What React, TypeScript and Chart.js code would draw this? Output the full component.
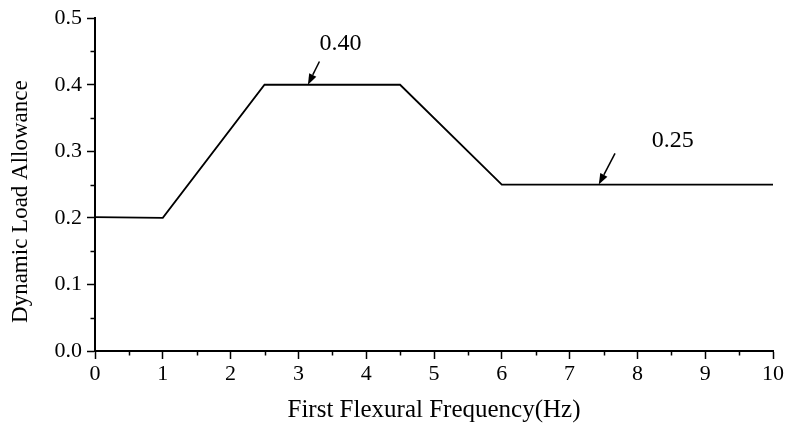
import React, { useEffect, useRef } from 'react';
import { Chart, registerables } from 'chart.js';

Chart.register(...registerables);

// ---- Data ----
const freqHz = [0, 1, 2.5, 4.5, 6, 10];
const loadAllowance = [0.201, 0.2, 0.4, 0.4, 0.25, 0.25];
const xMinorTicks = [0.5, 1.5, 2.5, 3.5, 4.5, 5.5, 6.5, 7.5, 8.5, 9.5];
const yMinorTicks = [0.05, 0.15, 0.25, 0.35, 0.45];
const noteLabels = ['0.40', '0.25'];
const noteTextX = [3.62, 8.52];
const noteTextY = [0.461, 0.316];
const arrowTailX = [3.31, 7.67];
const arrowTailY = [0.435, 0.297];
const arrowTipX = [3.14, 7.43];
const arrowTipY = [0.4, 0.25];
const xTitle = 'First Flexural Frequency(Hz)';
const yTitle = 'Dynamic Load Allowance';

const FONT = '"Liberation Serif", "Times New Roman", serif';

const extrasPlugin = {
  id: 'extras',
  afterDraw(chart: any) {
    const ctx = chart.ctx;
    const xs = chart.scales.x;
    const ys = chart.scales.y;
    const area = chart.chartArea;
    ctx.save();
    ctx.strokeStyle = '#000';
    ctx.lineWidth = 1.5;
    // minor ticks
    xMinorTicks.forEach((v) => {
      const px = Math.round(xs.getPixelForValue(v)) + 0.5;
      ctx.beginPath();
      ctx.moveTo(px, area.bottom);
      ctx.lineTo(px, area.bottom + 4.5);
      ctx.stroke();
    });
    yMinorTicks.forEach((v) => {
      const py = Math.round(ys.getPixelForValue(v)) + 0.5;
      ctx.beginPath();
      ctx.moveTo(area.left, py);
      ctx.lineTo(area.left - 4.5, py);
      ctx.stroke();
    });
    // y-axis title (slightly below the axis centre, as in the original)
    ctx.fillStyle = '#000';
    ctx.font = `23px ${FONT}`;
    ctx.textAlign = 'center';
    ctx.textBaseline = 'middle';
    ctx.save();
    ctx.translate(21, (area.top + area.bottom) / 2 + 17);
    ctx.rotate(-Math.PI / 2);
    ctx.fillText(yTitle, 0, 0);
    ctx.restore();
    // annotations
    ctx.font = `24px ${FONT}`;
    noteLabels.forEach((t, i) => {
      ctx.fillText(t, xs.getPixelForValue(noteTextX[i]), ys.getPixelForValue(noteTextY[i]));
      const x0 = xs.getPixelForValue(arrowTailX[i]);
      const y0 = ys.getPixelForValue(arrowTailY[i]);
      const x1 = xs.getPixelForValue(arrowTipX[i]);
      const y1 = ys.getPixelForValue(arrowTipY[i]);
      const ang = Math.atan2(y1 - y0, x1 - x0);
      const headLen = 11;
      const headW = 4;
      const bx = x1 - headLen * Math.cos(ang);
      const by = y1 - headLen * Math.sin(ang);
      ctx.lineWidth = 1.5;
      ctx.beginPath();
      ctx.moveTo(x0, y0);
      ctx.lineTo(bx, by);
      ctx.stroke();
      ctx.beginPath();
      ctx.moveTo(x1, y1);
      ctx.lineTo(bx + headW * Math.sin(ang), by - headW * Math.cos(ang));
      ctx.lineTo(bx - headW * Math.sin(ang), by + headW * Math.cos(ang));
      ctx.closePath();
      ctx.fill();
    });
    ctx.restore();
  },
};

export default function App() {
  const canvasRef = useRef<HTMLCanvasElement | null>(null);

  useEffect(() => {
    if (!canvasRef.current) return;
    const chart = new Chart(canvasRef.current, {
      type: 'line',
      data: {
        datasets: [
          {
            data: freqHz.map((x, i) => ({ x, y: loadAllowance[i] })),
            borderColor: '#000',
            borderWidth: 1.8,
            pointRadius: 0,
            tension: 0,
            fill: false,
          },
        ],
      },
      options: {
        responsive: true,
        maintainAspectRatio: false,
        animation: false,
        layout: { padding: { left: 0, top: 16, right: 14, bottom: 0 } },
        plugins: {
          legend: { display: false },
          tooltip: { enabled: false },
        },
        scales: {
          x: {
            type: 'linear',
            min: 0,
            max: 10,
            afterFit: (s: any) => {
              s.height = 74;
            },
            border: { display: true, color: '#000', width: 2 },
            grid: { drawOnChartArea: false, tickLength: 8, tickColor: '#000', tickWidth: 1.5 },
            ticks: {
              stepSize: 1,
              color: '#000',
              padding: 2,
              maxRotation: 0,
              font: { family: FONT, size: 22 },
            },
            title: {
              display: true,
              text: xTitle,
              color: '#000',
              font: { family: FONT, size: 25 },
              padding: { top: 2, bottom: 0 },
            },
          },
          y: {
            type: 'linear',
            min: 0,
            max: 0.5,
            afterFit: (s: any) => {
              s.width = 95;
            },
            border: { display: true, color: '#000', width: 2 },
            grid: { drawOnChartArea: false, tickLength: 8, tickColor: '#000', tickWidth: 1.5 },
            ticks: {
              stepSize: 0.1,
              color: '#000',
              padding: 5,
              font: { family: FONT, size: 22 },
              callback: (v: any) => Number(v).toFixed(1),
            },
            title: { display: false },
          },
        },
      },
      plugins: [extrasPlugin],
    });
    return () => chart.destroy();
  }, []);

  return (
    <div style={{ position: 'fixed', left: 0, top: 0, width: 787, height: 425, background: '#fff' }}>
      <canvas ref={canvasRef} />
    </div>
  );
}
